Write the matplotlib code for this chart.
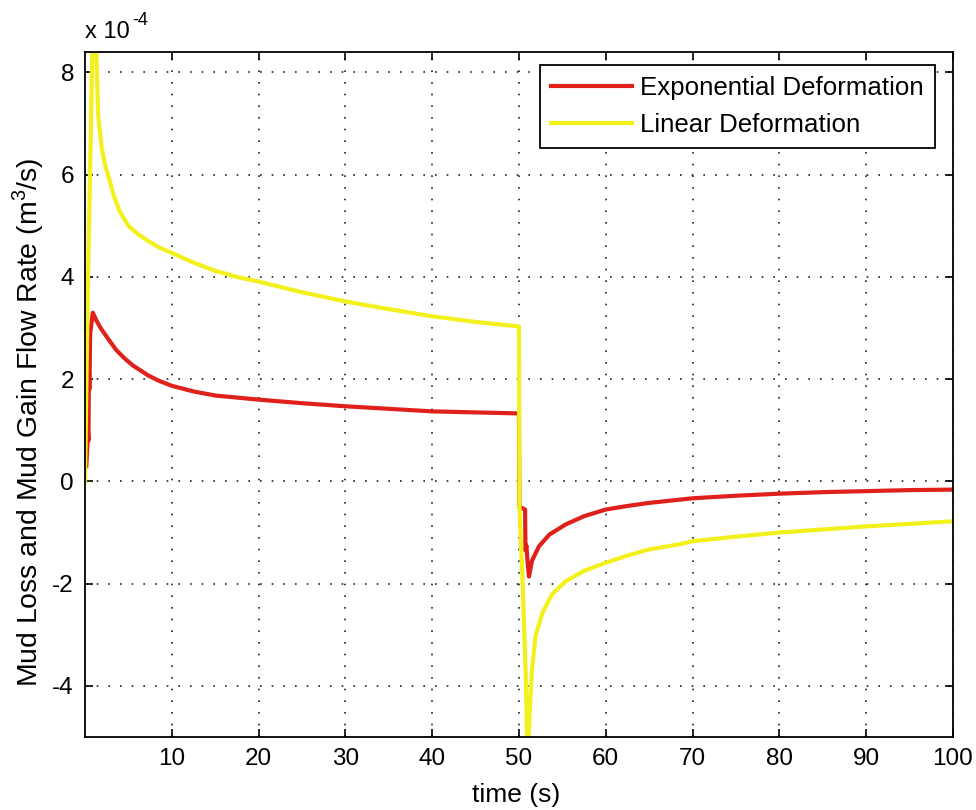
import matplotlib.pyplot as plt
import numpy as np

plt.rcParams["font.family"] = ["Liberation Sans", "DejaVu Sans"]
plt.rcParams["mathtext.fontset"] = "custom"
plt.rcParams["mathtext.rm"] = "Liberation Sans"
plt.rcParams["axes.unicode_minus"] = False

# flow rate in units of 1e-4 m^3/s
t_exp = [0.15, 0.35, 0.4, 0.45, 0.5, 0.6, 0.9, 1.3, 1.8, 2.7, 3.6, 4.6, 5.5, 6.5, 7.3,
         8.5, 10, 12.5, 15, 17.5, 20, 25, 30, 35, 40, 45, 50, 50.01, 50.05, 50.7,
         50.75, 50.85, 51.0, 51.15, 51.5, 52.3, 53.5, 55.4, 57.5, 60, 62.5, 65, 70,
         75, 80, 85, 90, 95, 100]
q_exp = [0.3, 0.95, 0.8, 2.2, 1.8, 2.9, 3.3, 3.15, 3.0, 2.78, 2.57, 2.40, 2.27, 2.16,
         2.07, 1.97, 1.87, 1.76, 1.68, 1.64, 1.60, 1.53, 1.47, 1.42, 1.37, 1.35, 1.33,
         0.68, -0.5, -0.55, -1.35, -1.25, -1.6, -1.86, -1.55, -1.27, -1.04, -0.84,
         -0.68, -0.55, -0.48, -0.42, -0.33, -0.28, -0.24, -0.21, -0.19, -0.17, -0.16]

t_lin = [0, 0.3, 0.6, 0.9, 1.1, 1.3, 1.5, 1.9, 2.3, 2.7, 3.3, 4.0, 5.0, 6.0, 7.3, 8.5,
         10, 12.5, 15, 17.5, 20, 25, 30, 35, 40, 45, 50, 50.05, 50.4, 50.8, 51.0, 51.2,
         51.5, 51.9, 52.7, 53.8, 55.4, 57.5, 60, 62.5, 65, 68.5, 70, 75, 80, 85, 90,
         95, 100]
q_lin = [0, 3.5, 6.2, 9.0, 9.3, 8.4, 7.2, 6.55, 6.2, 5.97, 5.6, 5.28, 5.0, 4.85, 4.70,
         4.58, 4.47, 4.28, 4.12, 4.0, 3.91, 3.70, 3.52, 3.37, 3.23, 3.12, 3.03, -0.5,
         -1.9, -3.9, -5.6, -4.6, -3.68, -3.03, -2.57, -2.21, -1.95, -1.75, -1.59,
         -1.45, -1.33, -1.23, -1.17, -1.08, -1.0, -0.94, -0.88, -0.83, -0.78]

x_ticks = [10, 20, 30, 40, 50, 60, 70, 80, 90, 100]
y_ticks = [-4, -2, 0, 2, 4, 6, 8]

fig = plt.figure(figsize=(9.76, 8.10), dpi=100)
ax = fig.add_axes([0.0871, 0.0901, 0.8893, 0.8457])

ax.plot(t_exp, q_exp, color="#e0201b", lw=3.0, label="Exponential Deformation")
ax.plot(t_lin, q_lin, color="#f4f01c", lw=3.0, label="Linear Deformation")

ax.set_xlim(0, 100)
ax.set_ylim(-5, 8.4)
ax.set_xticks(x_ticks)
ax.set_yticks(y_ticks)
ax.tick_params(direction="in", length=6, width=1.2, top=True, right=True,
               labelsize=17.5, pad=8)
for s in ax.spines.values():
    s.set_linewidth(1.3)

ax.grid(True, color="#222222", linestyle=(0, (1, 6)), linewidth=1.2)

ax.set_xlabel("time (s)", fontsize=19)
ax.xaxis.set_label_coords(0.4965, -0.067)
ax.set_ylabel(r"Mud Loss and Mud Gain Flow Rate (m$^3$/s)", fontsize=20.4)
ax.yaxis.set_label_coords(-0.045, 0.46)

# exponent label above the y axis
ax.text(0.0, 1.0204, "x 10", transform=ax.transAxes, fontsize=17,
        ha="left", va="baseline")
ax.text(0.055, 1.0394, "-4", transform=ax.transAxes, fontsize=13,
        ha="left", va="baseline")

leg = ax.legend(loc="upper right", bbox_to_anchor=(0.979, 0.981), fontsize=18.6,
                fancybox=False, framealpha=1, edgecolor="black", borderaxespad=0,
                handlelength=3.14, handletextpad=0.31, labelspacing=0.52,
                borderpad=0.42)
leg.get_frame().set_linewidth(1.3)

fig.savefig("out.png", dpi=100, facecolor="white")
